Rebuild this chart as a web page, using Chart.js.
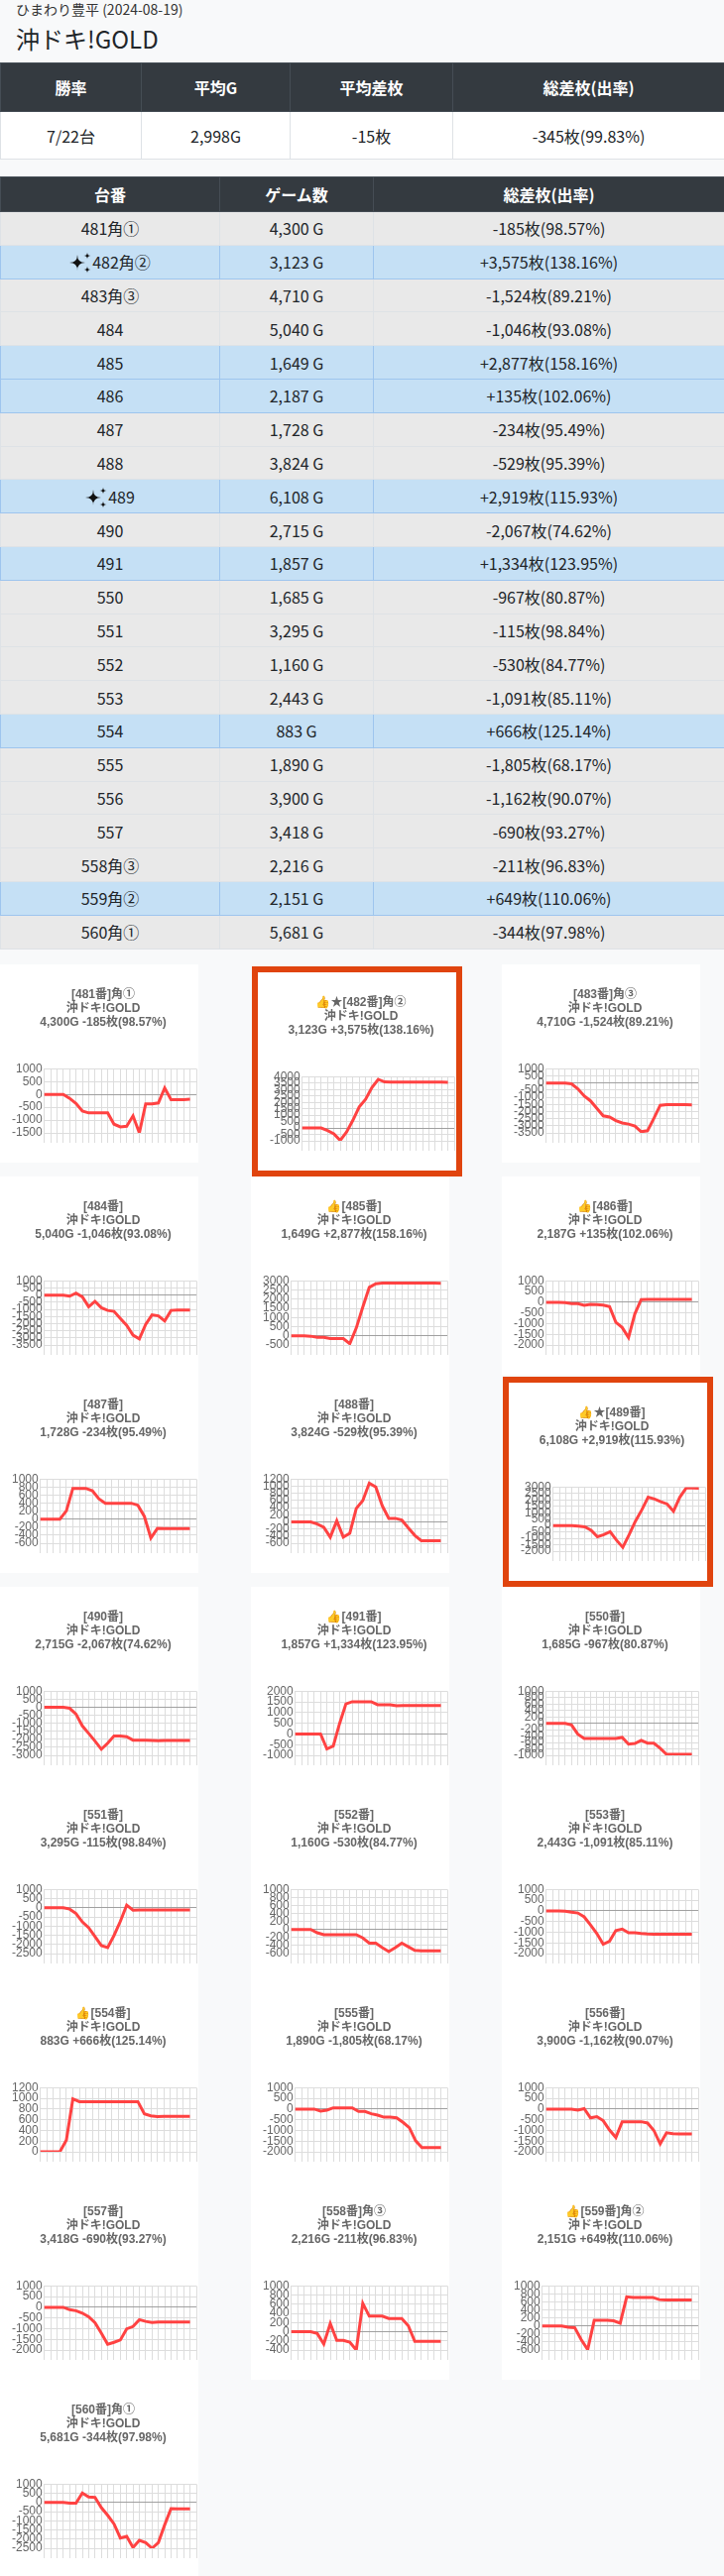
<!DOCTYPE html>
<html lang="ja">
<head>
<meta charset="utf-8">
<script src="https://cdn.jsdelivr.net/npm/chart.js@4.4.1/dist/chart.umd.min.js"></script>
<style>
* { box-sizing: border-box; }
body { margin: 0; width: 730px; background: #f8f9fa; font-family: "Noto Sans CJK JP", sans-serif; color: #212529; }
.shop { margin: 0 0 0 16px; font-size: 14px; line-height: 18px; color: #333; }
h1 { margin: 6px 0 0 16px; font-size: 24px; line-height: 30px; font-weight: 400; }
table { border-collapse: collapse; width: 730px; table-layout: fixed; font-size: 16px; text-align: center; }
th { background: #343a40; color: #fff; font-weight: 700; border: 1px solid #454d55; padding: 0; }
td { border: 1px solid #dee2e6; padding: 0; }
.summary { margin-top: 9px; }
.summary th { height: 49px; }
.summary td { height: 48px; background: #fff; }
.machines { margin-top: 17px; }
.machines th { height: 35px; }
.machines td { height: 33.8px; background: #e9e9e9; }
.machines tr.plus td { background: #c5e0f5; border-color: #9ec5ee; }
.machines svg { vertical-align: -5px; margin-right: 1px; }
.grid { display: grid; grid-template-columns: repeat(3, 200px); column-gap: 53px; margin-top: 15px; align-items: start; }
.card { width: 200px; height: 200px; background: #fff; }
.card.hl { box-sizing: content-box; border: 6px solid #e0440e; margin: 2px 0 0 1px; }
.card canvas { display: block; }
</style>
</head>
<body>
<div class="shop">ひまわり豊平 (2024-08-19)</div>
<h1>沖ドキ!GOLD</h1>
<table class="summary">
  <colgroup><col style="width:142px"><col style="width:150px"><col style="width:164px"><col style="width:274px"></colgroup>
  <thead><tr id="sumHead"></tr></thead>
  <tbody><tr id="sumBody"></tr></tbody>
</table>
<table class="machines">
  <colgroup><col style="width:221px"><col style="width:155px"><col style="width:354px"></colgroup>
  <thead><tr><th>台番</th><th>ゲーム数</th><th>総差枚(出率)</th></tr></thead>
  <tbody id="rows"></tbody>
</table>
<div class="grid" id="grid"></div>

<script>
const sumHeads = ['勝率', '平均G', '平均差枚', '総差枚(出率)'];
const sumValues = ['7/22台', '2,998G', '-15枚', '-345枚(99.83%)'];

const machines = ['481','482','483','484','485','486','487','488','489','490','491','550','551','552','553','554','555','556','557','558','559','560'];
const corners = ['角①','角②','角③','','','','','','','','','','','','','','','','','角③','角②','角①'];
const games = [4300,3123,4710,5040,1649,2187,1728,3824,6108,2715,1857,1685,3295,1160,2443,883,1890,3900,3418,2216,2151,5681];
const diffs = [-185,3575,-1524,-1046,2877,135,-234,-529,2919,-2067,1334,-967,-115,-530,-1091,666,-1805,-1162,-690,-211,649,-344];
const rates = ['98.57','138.16','89.21','93.08','158.16','102.06','95.49','95.39','115.93','74.62','123.95','80.87','98.84','84.77','85.11','125.14','68.17','90.07','93.27','96.83','110.06','97.98'];
const starred = ['482', '489'];

// time slots on the x axis (labels are hidden)
const slots = ['1','2','3','4','5','6','7','8','9','10','11','12','13','14','15','16','17','18','19','20','21','22','23','24','25'];

const d481 = [0,0,0,0,-150,-350,-650,-720,-720,-720,-720,-1160,-1265,-1240,-835,-1500,-365,-365,-330,250,-200,-200,-200,-185];
const d482 = [0,0,0,0,-200,-450,-970,-320,600,1650,2240,3150,3800,3600,3580,3580,3580,3580,3580,3580,3580,3580,3580,3575];
const d483 = [0,0,0,0,-50,-400,-900,-1250,-1770,-2300,-2380,-2640,-2800,-2880,-3020,-3420,-3350,-2480,-1560,-1510,-1520,-1520,-1520,-1524];
const d484 = [0,0,0,0,-70,140,-120,-810,-430,-880,-1070,-1140,-1640,-2120,-2810,-3070,-2050,-1380,-1450,-1810,-1070,-1050,-1050,-1046];
const d485 = [0,0,0,-20,-80,-80,-150,-150,-150,-430,430,1570,2650,2850,2880,2880,2880,2880,2880,2880,2880,2880,2880,2877];
const d486 = [0,0,0,-20,-60,-60,-140,-100,-110,-130,-200,-940,-1180,-1650,-540,130,135,135,135,135,135,135,135,135];
const d487 = [0,0,0,0,210,770,770,770,710,510,400,400,400,400,400,350,70,-470,-230,-234,-234,-234,-234,-234];
const d488 = [0,0,0,0,-60,-150,-430,30,-430,-320,380,600,1090,980,450,100,100,50,-170,-380,-530,-530,-530,-529];
const d489 = [0,0,0,0,-50,-100,-370,-880,-720,-480,-1140,-1700,-720,350,1220,2210,2070,1860,1680,1120,2210,2930,2930,2919];
const d490 = [0,0,0,0,-60,-420,-1160,-1630,-2110,-2620,-2240,-1800,-1800,-1840,-2050,-2050,-2050,-2070,-2090,-2070,-2070,-2070,-2070,-2067];
const d491 = [0,0,0,0,0,-700,-570,490,1410,1510,1510,1510,1510,1370,1370,1370,1320,1330,1330,1330,1330,1330,1330,1334];
const d550 = [0,0,0,0,-50,-340,-470,-470,-470,-470,-470,-470,-440,-650,-630,-530,-620,-620,-780,-970,-970,-970,-970,-967];
const d551 = [0,0,0,0,-70,-310,-770,-1090,-1570,-2060,-2170,-1510,-740,150,-130,-120,-120,-120,-120,-120,-120,-120,-120,-115];
const d552 = [0,0,0,0,-80,-130,-130,-130,-130,-130,-130,-210,-340,-340,-450,-550,-450,-340,-430,-520,-530,-530,-530,-530];
const d553 = [0,0,0,-20,-60,-100,-280,-660,-1060,-1560,-1420,-920,-850,-1030,-1030,-1060,-1080,-1090,-1090,-1090,-1090,-1090,-1090,-1091];
const d554 = [0,0,0,0,220,990,940,940,940,940,940,940,940,940,940,940,710,675,660,666,666,666,666,666];
const d555 = [0,0,0,0,-90,-50,60,60,60,60,-110,-110,-220,-280,-380,-380,-410,-620,-870,-1480,-1800,-1805,-1805,-1805];
const d556 = [0,0,0,0,0,-50,20,-410,-350,-540,-980,-1330,-590,-590,-590,-590,-650,-1000,-1630,-1110,-1150,-1160,-1160,-1162];
const d557 = [0,0,0,0,-110,-160,-270,-440,-720,-1210,-1730,-1640,-1530,-1010,-900,-580,-660,-710,-690,-690,-690,-690,-690,-690];
const d558 = [0,0,0,0,-40,-270,180,-190,-190,-230,-400,620,340,340,340,290,290,290,130,-210,-211,-211,-211,-211];
const d559 = [0,0,0,0,-30,-40,-340,-590,140,140,140,130,70,730,715,715,715,715,660,649,649,649,649,649];
const d560 = [0,0,0,0,-40,-40,520,300,280,-280,-700,-1170,-1940,-1850,-2460,-2070,-2190,-2500,-2190,-1220,-330,-344,-344,-344];
const series = [d481,d482,d483,d484,d485,d486,d487,d488,d489,d490,d491,d550,d551,d552,d553,d554,d555,d556,d557,d558,d559,d560];

const yMax = [1000,4000,1000,1000,3000,1000,1000,1200,3000,1000,2000,1000,1000,1000,1000,1200,1000,1000,1000,1000,1000,1000];
const yMin = [-1500,-1000,-3500,-3500,-500,-2000,-600,-600,-2000,-3000,-1000,-1000,-2500,-600,-2000,0,-2000,-2000,-2000,-400,-600,-2500];
const yStep = [500,500,500,500,500,500,200,200,500,500,500,200,500,200,500,200,500,500,500,200,200,500];

const fmt = n => n.toLocaleString('en-US');
const signed = n => (n > 0 ? '+' : '') + fmt(n);

function star4(cx, cy, r) {
  return `M${cx} ${cy - r}Q${cx} ${cy} ${cx + r} ${cy}Q${cx} ${cy} ${cx} ${cy + r}Q${cx} ${cy} ${cx - r} ${cy}Q${cx} ${cy} ${cx} ${cy - r}Z`;
}
const sparkle = `<svg width="22" height="22" viewBox="0 0 22 22"><path fill="#111" d="${star4(8, 11, 8)}${star4(18, 4, 3.5)}${star4(18, 18, 3.5)}"/></svg>`;

document.getElementById('sumHead').innerHTML = sumHeads.map(h => `<th>${h}</th>`).join('');
document.getElementById('sumBody').innerHTML = sumValues.map(v => `<td>${v}</td>`).join('');

let rowsHtml = '';
machines.forEach((m, i) => {
  const icon = starred.includes(m) ? sparkle : '';
  rowsHtml += `<tr class="${diffs[i] > 0 ? 'plus' : ''}"><td>${icon}${m}${corners[i]}</td><td>${fmt(games[i])} G</td><td>${signed(diffs[i])}枚(${rates[i]}%)</td></tr>`;
});
document.getElementById('rows').innerHTML = rowsHtml;

Chart.defaults.font.family = "'Liberation Sans', 'Noto Sans CJK JP', sans-serif";

let grid = document.getElementById('grid');
machines.forEach((m, i) => {
  let card = document.createElement('div');
  card.className = starred.includes(m) ? 'card hl' : 'card';
  let cv = document.createElement('canvas');
  cv.width = 200;
  cv.height = 200;
  card.appendChild(cv);
  grid.appendChild(card);

  let mark = (diffs[i] > 0 ? '👍' : '') + (starred.includes(m) ? '★' : '');
  new Chart(cv, {
    type: 'line',
    data: {
      labels: slots,
      datasets: [{
        data: series[i],
        borderColor: '#ff4242',
        borderWidth: 3,
        pointRadius: 0,
        tension: 0,
        fill: false
      }]
    },
    options: {
      responsive: false,
      animation: false,
      events: [],
      layout: { padding: { top: 24, right: 2, bottom: 20, left: 10 } },
      plugins: {
        legend: { display: false },
        tooltip: { enabled: false },
        title: {
          display: true,
          text: [`${mark}[${m}番]${corners[i]}`, '沖ドキ!GOLD', `${fmt(games[i])}G ${signed(diffs[i])}枚(${rates[i]}%)`],
          color: '#666',
          font: { size: 12, weight: 'bold', lineHeight: 1.15 },
          padding: { top: 0, bottom: 40 }
        }
      },
      scales: {
        x: {
          ticks: { display: false },
          grid: { color: '#dddddd', drawTicks: true, tickLength: 10 },
          border: { color: '#dddddd' }
        },
        y: {
          min: yMin[i],
          max: yMax[i],
          ticks: { stepSize: yStep[i], autoSkip: false, color: '#666', font: { size: 12 }, padding: 2, callback: v => String(v) },
          grid: { color: c => c.tick.value === 0 ? '#a0a0a0' : '#dddddd', drawTicks: false },
          border: { color: '#dddddd' }
        }
      }
    }
  });
});
</script>
</body>
</html>
